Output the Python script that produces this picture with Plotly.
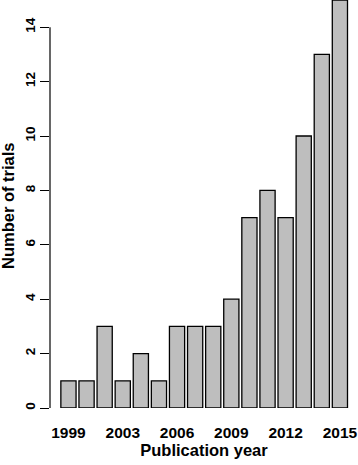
import plotly.graph_objects as go

years = ["1999", "2000", "2001", "2003", "2004", "2005", "2006", "2007",
         "2008", "2009", "2010", "2011", "2012", "2013", "2014", "2015"]
trials = [1, 1, 3, 1, 2, 1, 3, 3, 3, 4, 7, 8, 7, 10, 13, 15]
x_labels = ["1999", "2003", "2006", "2009", "2012", "2015"]
y_ticks = [0, 2, 4, 6, 8, 10, 12, 14]

FONT = "Liberation Sans, Arial, Helvetica, sans-serif"

fig = go.Figure(
    go.Bar(
        x=years,
        y=trials,
        hoverinfo="skip",
        marker=dict(color="#bebebe", line=dict(color="black", width=1.3)),
    )
)

fig.update_layout(
    width=358,
    height=465,
    margin=dict(l=50, r=0, t=0, b=57, autoexpand=False),
    paper_bgcolor="white",
    plot_bgcolor="white",
    bargap=0.16,
    showlegend=False,
    font=dict(family=FONT, color="black", size=13, weight="bold"),
    xaxis=dict(
        type="category",
        range=[-1.02, 16.0],
        tickmode="array",
        tickvals=x_labels,
        ticktext=x_labels,
        ticks="outside",
        ticklen=10,
        tickcolor="rgba(0,0,0,0)",
        showline=False,
        showgrid=False,
        zeroline=False,
        automargin=False,
        tickfont=dict(size=15.5, weight="bold"),
        title=dict(text="Publication year", font=dict(size=16.5, weight="bold"), standoff=2),
    ),
    yaxis=dict(
        range=[0, 15],
        tickmode="array",
        tickvals=y_ticks,
        ticks="outside",
        ticklen=9,
        tickwidth=1.2,
        tickcolor="black",
        tickangle=-90,
        showline=False,
        showgrid=False,
        zeroline=False,
        automargin=False,
        tickfont=dict(size=13.5, weight="bold"),
    ),
    shapes=[
        dict(type="line", xref="paper", yref="y", x0=0, x1=0, y0=0, y1=14,
             line=dict(color="black", width=1.2))
    ],
    annotations=[
        dict(text="Number of trials", xref="paper", yref="paper",
             x=(8 - 50) / 308, y=(408 - 206) / 408, textangle=-90,
             xanchor="center", yanchor="middle",
             showarrow=False, font=dict(size=16.5, weight="bold"))
    ],
)

fig.write_html(
    "out.html",
    config={"displayModeBar": False},
    post_script="document.body.style.margin='0';document.body.style.overflow='hidden';",
)
